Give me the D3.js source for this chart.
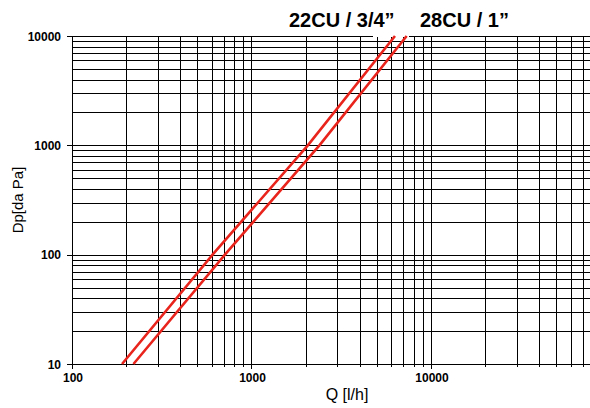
<!DOCTYPE html>
<html><head><meta charset="utf-8">
<script src="https://cdn.jsdelivr.net/npm/d3@7"></script>
<style>html,body{margin:0;padding:0;background:#fff;overflow:hidden}svg{display:block}</style>
</head><body>
<svg id="c" width="590" height="408"></svg>
<script>
// Data (Q in l/h, Dp in daPa)
const seriesNames = ["22CU / 3/4\u201d", "28CU / 1\u201d"];
const series22Q = [190, 607, 2060, 6300];
const series22Dp = [10, 100, 1000, 10000];
const series28Q = [220, 711, 2390, 7320];
const series28Dp = [10, 100, 1000, 10000];
const xTickValues = [100, 1000, 10000, 100000];
const xTickLabels = ["100", "1000", "10000", "100000"];
const yTickValues = [10, 100, 1000, 10000];
const yTickLabels = ["10", "100", "1000", "10000"];
const xTitle = "Q [l/h]";
const yTitle = "Dp[da Pa]";

const svg = d3.select("#c");
const L = 72, T = 36, B = 364, R = 72 + 3 * 179.5;
const x = d3.scaleLog().domain([100, 100000]).range([L, R]);
const y = d3.scaleLog().domain([10, 10000]).range([B, T]);

// minor + major gridlines
const xGrid = [], yGrid = [];
for (let e = 2; e < 5; e++) for (let m = 1; m <= 9; m++) xGrid.push(m * Math.pow(10, e));
xGrid.push(100000);
for (let e = 1; e < 4; e++) for (let m = 1; m <= 9; m++) yGrid.push(m * Math.pow(10, e));
yGrid.push(10000);

const g = svg.append("g").attr("shape-rendering", "crispEdges");
g.selectAll("line.v").data(xGrid).join("line")
  .attr("x1", d => Math.round(x(d)) + 0.5).attr("x2", d => Math.round(x(d)) + 0.5)
  .attr("y1", T).attr("y2", d => xTickValues.includes(d) ? B + 5 : B + 3)
  .attr("stroke", "#000").attr("stroke-width", 1);
g.selectAll("line.h").data(yGrid).join("line")
  .attr("y1", d => Math.round(y(d)) + 0.5).attr("y2", d => Math.round(y(d)) + 0.5)
  .attr("x1", d => yTickValues.includes(d) ? L - 5 : L).attr("x2", 600)
  .attr("stroke", "#000").attr("stroke-width", 1);

// white patch behind label on the top gridline
svg.append("rect").attr("x", 373).attr("y", 28).attr("width", 36).attr("height", 9).attr("fill", "#fff");

// curves
const line = d3.line().x(d => x(d[0])).y(d => y(d[1]));
const data22 = series22Q.map((q, i) => [q, series22Dp[i]]);
const data28 = series28Q.map((q, i) => [q, series28Dp[i]]);
[data22, data28].forEach(d => {
  svg.append("path").datum(d).attr("d", line)
    .attr("fill", "none").attr("stroke", "#e8241c").attr("stroke-width", 2.6);
});

// tick labels
svg.selectAll("text.yt").data(yTickValues).join("text")
  .attr("x", 61).attr("y", d => y(d) + 4.5)
  .attr("text-anchor", "end").attr("font-family", "Liberation Sans, Arial, sans-serif")
  .attr("font-weight", "bold").attr("font-size", 12)
  .text((d, i) => yTickLabels[i]);
svg.selectAll("text.xt").data(xTickValues).join("text")
  .attr("x", d => x(d) + 1).attr("y", 382)
  .attr("text-anchor", "middle").attr("font-family", "Liberation Sans, Arial, sans-serif")
  .attr("font-weight", "bold").attr("font-size", 12)
  .text((d, i) => xTickLabels[i]);

// titles
svg.append("text").attr("x", 347).attr("y", 400).attr("text-anchor", "middle")
  .attr("font-family", "Liberation Sans, Arial, sans-serif").attr("font-size", 16).text(xTitle);
svg.append("text").attr("transform", "translate(23,200) rotate(-90)").attr("text-anchor", "middle")
  .attr("font-family", "Liberation Sans, Arial, sans-serif").attr("font-size", 15).text(yTitle);

// series labels
svg.append("text").attr("x", 289).attr("y", 27)
  .attr("font-family", "Liberation Sans, Arial, sans-serif").attr("font-weight", "bold").attr("font-size", 20)
  .text(seriesNames[0]);
svg.append("text").attr("x", 420).attr("y", 27)
  .attr("font-family", "Liberation Sans, Arial, sans-serif").attr("font-weight", "bold").attr("font-size", 20)
  .text(seriesNames[1]);
</script>
</body></html>
